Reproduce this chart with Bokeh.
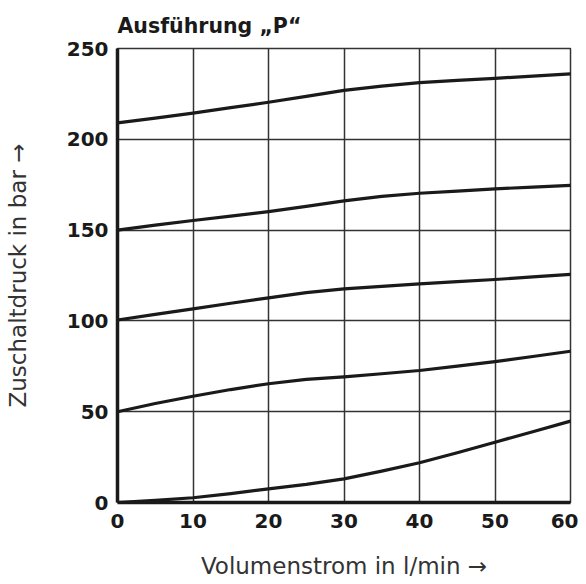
from bokeh.plotting import figure
from bokeh.embed import file_html
from bokeh.resources import INLINE
from bokeh.models import Range1d, FixedTicker

# Data
flow = [0, 5, 10, 15, 20, 25, 30, 35, 40, 45, 50, 55, 60]
p_210 = [209.0, 211.7, 214.4, 217.4, 220.4, 223.6, 226.9, 229.3, 231.2, 232.5, 233.6, 234.8, 236.0]
p_150 = [150.0, 152.7, 155.3, 157.7, 160.2, 163.1, 166.1, 168.6, 170.3, 171.5, 172.7, 173.7, 174.6]
p_100 = [100.5, 103.6, 106.6, 109.7, 112.7, 115.6, 117.6, 119.0, 120.4, 121.6, 122.8, 124.2, 125.6]
p_50 = [50.0, 54.5, 58.5, 62.2, 65.4, 67.8, 69.2, 70.9, 72.7, 75.1, 77.6, 80.4, 83.3]
p_0 = [0.0, 1.2, 2.6, 4.9, 7.5, 10.0, 13.0, 17.3, 21.9, 27.4, 33.2, 39.0, 44.8]
series = [p_210, p_150, p_100, p_50, p_0]

x_ticks = [0, 10, 20, 30, 40, 50, 60]
y_ticks = [0, 50, 100, 150, 200, 250]

title_text = "Ausführung „P“"
x_label = "Volumenstrom in l/min →"
y_label = "Zuschaltdruck in bar →"

p = figure(
    frame_width=453, frame_height=454,
    min_border_left=117, min_border_right=8, min_border_top=48, min_border_bottom=60,
    output_backend="svg", toolbar_location=None,
    x_range=Range1d(0, 60), y_range=Range1d(0, 250),
    title=title_text,
)
p.background_fill_color = "white"
p.border_fill_color = "white"
p.outline_line_color = "#333333"
p.outline_line_width = 1.5

p.title.text_font = "DejaVu Sans"
p.title.text_font_style = "bold"
p.title.text_font_size = "20.5px"
p.title.text_color = "#1a1a1a"
p.title.align = "left"
p.title.standoff = 21

for ax in (p.xaxis[0], p.yaxis[0]):
    ax.axis_line_width = 3.5
    ax.axis_line_color = "#1a1a1a"
    ax.major_tick_out = 0
    ax.major_tick_in = 0
    ax.minor_tick_out = 0
    ax.minor_tick_in = 0
    ax.major_label_text_font = "DejaVu Sans"
    ax.major_label_text_font_style = "bold"
    ax.major_label_text_font_size = "20px"
    ax.major_label_text_color = "#1a1a1a"
    ax.axis_label_text_font = "DejaVu Sans"
    ax.axis_label_text_font_style = "normal"
    ax.axis_label_text_font_size = "23px"
    ax.axis_label_text_color = "#333333"

p.xaxis[0].ticker = FixedTicker(ticks=x_ticks)
p.yaxis[0].ticker = FixedTicker(ticks=y_ticks)
p.xaxis[0].axis_label = x_label
p.yaxis[0].axis_label = y_label
p.xaxis[0].major_label_standoff = 11
p.yaxis[0].major_label_standoff = 9
p.xaxis[0].axis_label_standoff = 22
p.yaxis[0].axis_label_standoff = 33

p.xgrid[0].ticker = FixedTicker(ticks=x_ticks)
p.ygrid[0].ticker = FixedTicker(ticks=y_ticks)
for g in (p.xgrid[0], p.ygrid[0]):
    g.grid_line_color = "#333333"
    g.grid_line_width = 1.5
    g.grid_line_alpha = 1.0

for s in series:
    p.line(flow, s, line_color="#1a1a1a", line_width=3.2, line_join="round", line_cap="round")

open("out.html", "w").write(file_html(p, INLINE))
